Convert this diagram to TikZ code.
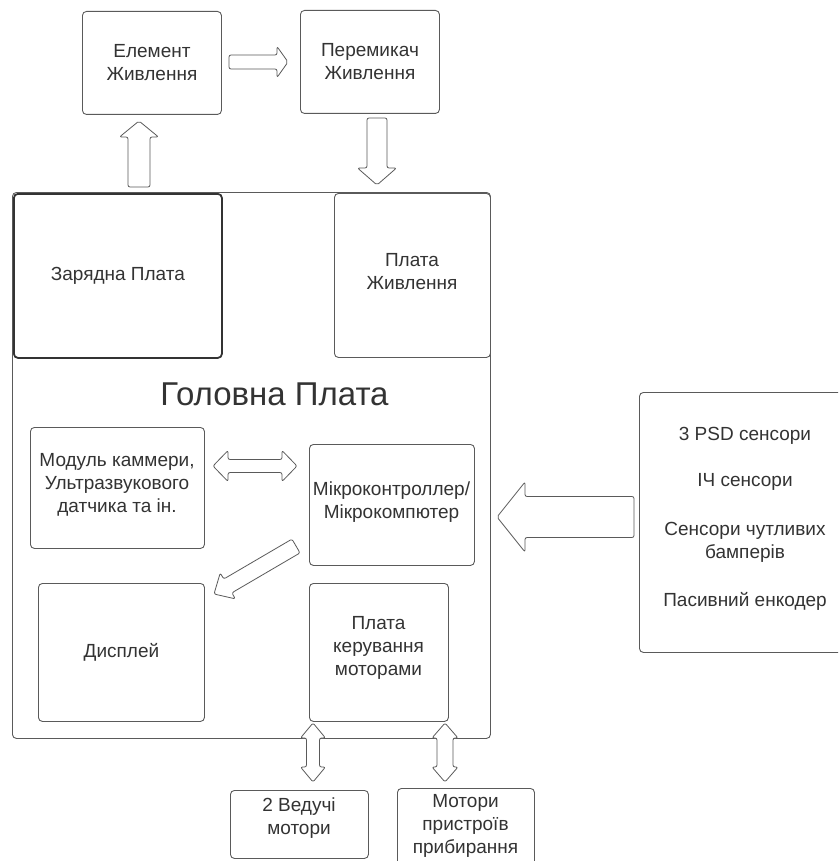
\documentclass[tikz,border=0pt]{standalone}
\usepackage{fontspec}
\setmainfont{Liberation Sans}
\usetikzlibrary{calc}
\definecolor{edge}{HTML}{5A5A5A}
\definecolor{ink}{HTML}{333333}
\tikzset{
  box/.style={draw=edge, line width=0.9pt, rounded corners=4pt, fill=white, anchor=north west,
    inner sep=0pt, align=center, text=ink, font=\fontsize{19}{23}\selectfont},
  txt/.style={text=ink, align=center, font=\fontsize{19}{23}\selectfont, inner sep=0pt},
  barrow/.style={draw=edge, line width=0.8pt, fill=white, rounded corners=2pt, line join=round},
}
\newcommand{\blockarr}[5]{%
  \path ($(#2)!#5!(#1)$) coordinate (hb);
  \draw[barrow] ($(#1)!#3!90:(#2)$) -- ($(hb)!#3!90:(#2)$) -- ($(hb)!#4!90:(#2)$) -- (#2)
    -- ($(hb)!#4!-90:(#2)$) -- ($(hb)!#3!-90:(#2)$) -- ($(#1)!#3!-90:(#2)$) -- cycle;
}
\newcommand{\dblockarr}[5]{%
  \path ($(#1)!#5!(#2)$) coordinate (ha) ($(#2)!#5!(#1)$) coordinate (hb);
  \draw[barrow] (#1) -- ($(ha)!#4!90:(#2)$) -- ($(ha)!#3!90:(#2)$) -- ($(hb)!#3!90:(#2)$)
    -- ($(hb)!#4!90:(#2)$) -- (#2) -- ($(hb)!#4!-90:(#2)$) -- ($(hb)!#3!-90:(#2)$)
    -- ($(ha)!#3!-90:(#2)$) -- ($(ha)!#4!-90:(#2)$) -- cycle;
}
\begin{document}
\begin{tikzpicture}[x=1pt,y=-1pt]
\useasboundingbox (0,0) rectangle (838,861);
\clip (0,0) rectangle (838,861);
\fill[white] (0,0) rectangle (838,861);

% main board
\node[box, minimum width=478pt, minimum height=546pt] (main) at (12,192) {};
\node[text=ink, font=\fontsize{33}{38}\selectfont, inner sep=0pt, anchor=base] (title) at (274.5,405) {Головна Плата};

% top
\node[box, minimum width=139pt, minimum height=103pt] (elem) at (82,11) {Елемент\\Живлення};
\node[box, minimum width=139pt, minimum height=103pt] (perem) at (300,10) {Перемикач\\Живлення};

% inside main
\node[box, draw=ink, line width=1.8pt, minimum width=208pt, minimum height=164pt] (zar) at (13,193) {Зарядна Плата};
\node[box, minimum width=156pt, minimum height=164pt] (pzh) at (334,193) {};
\node[txt] (pzht) at (412,271.5) {Плата\\Живлення};
\node[box, minimum width=174pt, minimum height=121pt] (cam) at (30,427) {};
\node[txt] (camt) at (117,485) {Модуль каммери,\\Ультразвукового\\датчика та ін.};
\node[box, minimum width=165pt, minimum height=121pt] (mcu) at (309,444) {};
\node[txt] (mcut) at (391.5,502) {Мікроконтроллер/\\Мікрокомпютер};
\node[box, minimum width=166pt, minimum height=138pt] (disp) at (38,583) {Дисплей};
\node[box, minimum width=139pt, minimum height=138pt] (motctl) at (309,583) {};
\node[txt] (motctlt) at (378.5,648) {Плата\\керування\\моторами};

% bottom
\node[box, minimum width=138pt, minimum height=68pt] (drv) at (230,790) {};
\node[txt] (drvt) at (299,818) {2 Ведучі\\мотори};
\node[box, minimum width=137pt, minimum height=78pt] (clean) at (397,788) {};
\node[txt] (cleant) at (465.5,826) {Мотори\\пристроїв\\прибирання};

% sensors
\node[box, minimum width=212pt, minimum height=260pt] (sens) at (639,392) {};
\node[txt] (senst) at (745,519) {3 PSD сенсори\\[23pt]ІЧ сенсори\\[26pt]Сенсори чутливих\\бамперів\\[25pt]Пасивний енкодер};

% block arrows
\coordinate (a1s) at (139,187); \coordinate (a1e) at (139,121);
\blockarr{a1s}{a1e}{11pt}{19.5pt}{16pt}
\coordinate (a2s) at (229,62); \coordinate (a2e) at (288,62);
\blockarr{a2s}{a2e}{7pt}{15.5pt}{11pt}
\coordinate (a3s) at (377,118); \coordinate (a3e) at (377,185);
\blockarr{a3s}{a3e}{10pt}{19.5pt}{17pt}
\coordinate (a4s) at (213,466); \coordinate (a4e) at (297,466);
\dblockarr{a4s}{a4e}{6.5pt}{15.5pt}{15pt}
\coordinate (a5s) at (296,546); \coordinate (a5e) at (214,594);
\blockarr{a5s}{a5e}{8pt}{15pt}{16pt}
\coordinate (a6s) at (634,517); \coordinate (a6e) at (497,517);
\blockarr{a6s}{a6e}{20.5pt}{35pt}{28pt}
\coordinate (a7s) at (313,723); \coordinate (a7e) at (313,782);
\dblockarr{a7s}{a7e}{6.5pt}{12.5pt}{15pt}
\coordinate (a8s) at (445,723); \coordinate (a8e) at (445,782);
\dblockarr{a8s}{a8e}{8pt}{13pt}{15pt}
\end{tikzpicture}
\end{document}
